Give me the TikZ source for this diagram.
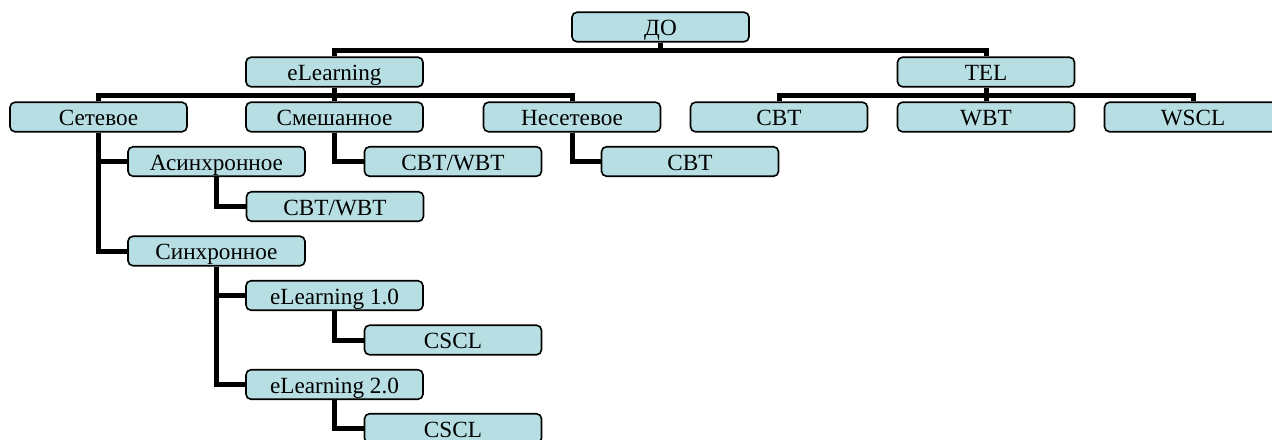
\documentclass[tikz,border=0pt]{standalone}
\usepackage{fontspec}
\setmainfont{Liberation Serif}
\usepackage{tikz}
\definecolor{boxfill}{RGB}{183,223,227}
\tikzset{
  item/.style={draw, line width=0.8pt, rounded corners=2.5pt, fill=boxfill,
    minimum width=88.5pt, minimum height=14.75pt, inner sep=0pt,
    text height=11.75pt, text depth=3pt,
    font=\fontsize{11.6}{14}\selectfont},
  link/.style={line width=2.5pt}
}

\begin{document}
\begin{tikzpicture}[x=0.5pt, y=-0.5pt]
\useasboundingbox (0,0) rectangle (1272,439);
\node[item] (do) at (660.5,27) {ДО};
\node[item] (elearn) at (334.5,72) {eLearning};
\node[item] (tel) at (986,72) {TEL};
\node[item] (setev) at (98.5,117) {Сетевое};
\node[item] (smesh) at (334.5,117) {Смешанное};
\node[item] (nesetev) at (572,117) {Несетевое};
\node[item] (cbt) at (779,117) {CBT};
\node[item] (wbt) at (986,117) {WBT};
\node[item] (wscl) at (1193,117) {WSCL};
\node[item] (asinh) at (216.5,161.5) {Асинхронное};
\node[item] (smeshcw) at (453,161.5) {CBT/WBT};
\node[item] (nesetcbt) at (690,161.5) {CBT};
\node[item] (asinhcw) at (335,206.5) {CBT/WBT};
\node[item] (sinh) at (216.5,251) {Синхронное};
\node[item] (elone) at (334.5,295.5) {eLearning 1.0};
\node[item] (csclone) at (453,340) {CSCL};
\node[item] (eltwo) at (334.5,384.5) {eLearning 2.0};
\node[item] (cscltwo) at (453,428.5) {CSCL};
\draw[link] (do.south) -- ++(0,7.5) -| (elearn.north);
\draw[link] (do.south) -- ++(0,7.5) -| (tel.north);
\draw[link] (elearn.south) -- ++(0,7.75) -| (setev.north);
\draw[link] (elearn.south) -- (smesh.north);
\draw[link] (elearn.south) -- ++(0,7.75) -| (nesetev.north);
\draw[link] (tel.south) -- ++(0,7.75) -| (cbt.north);
\draw[link] (tel.south) -- (wbt.north);
\draw[link] (tel.south) -- ++(0,7.75) -| (wscl.north);
\draw[link] (setev.south) |- (asinh.west);
\draw[link] (setev.south) |- (sinh.west);
\draw[link] (smesh.south) |- (smeshcw.west);
\draw[link] (nesetev.south) |- (nesetcbt.west);
\draw[link] (asinh.south) |- (asinhcw.west);
\draw[link] (sinh.south) |- (elone.west);
\draw[link] (sinh.south) |- (eltwo.west);
\draw[link] (elone.south) |- (csclone.west);
\draw[link] (eltwo.south) |- (cscltwo.west);
\end{tikzpicture}
\end{document}
